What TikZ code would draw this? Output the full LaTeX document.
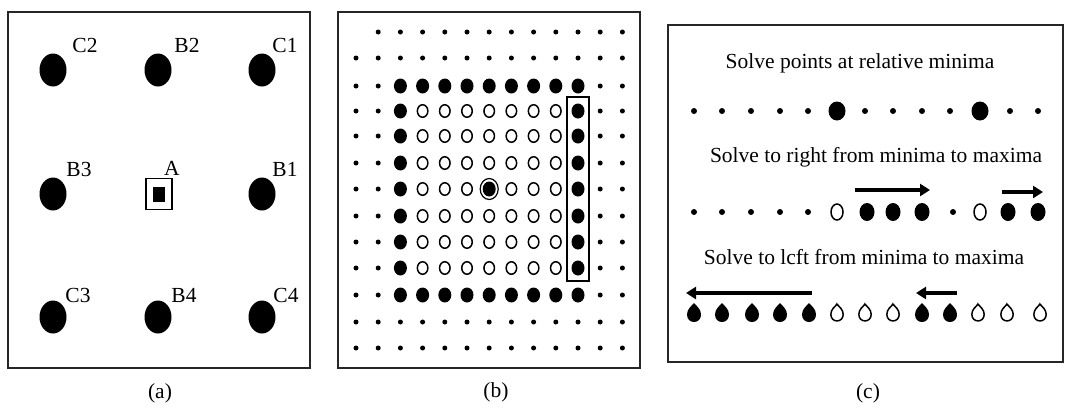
\documentclass[tikz,border=0pt]{standalone}
\usepackage{fontspec}
\setmainfont{Liberation Serif}
\usetikzlibrary{shapes.geometric,arrows.meta}
\tikzset{
  frame/.style={draw=black!85,line width=1.9},
  lbl/.style={inner sep=0,font=\fontsize{21.5}{25}\selectfont},
  adot/.style={ellipse,fill=black,minimum width=27,minimum height=33,inner sep=0},
  bsm/.style={circle,fill=black,minimum size=5,inner sep=0},
  bbig/.style={ellipse,fill=black,minimum width=13,minimum height=15,inner sep=0},
  bopen/.style={ellipse,draw=black,line width=1.5,minimum width=10.5,minimum height=12.5,inner sep=0},
  csm/.style={circle,fill=black,minimum size=6,inner sep=0},
  cbig/.style={ellipse,fill=black,minimum width=17,minimum height=19,inner sep=0},
  cfill/.style={ellipse,fill=black,minimum width=15,minimum height=18,inner sep=0},
  copen/.style={ellipse,draw=black,line width=1.5,minimum width=12,minimum height=16,inner sep=0},
  solvearrow/.style={line width=3.2,-{Triangle[length=10,width=12]}},
  dropshape/.pic={\path[pic actions] (0,-10) .. controls (2.5,-7) and (7,-4) .. (7,1.5) .. controls (7,6) and (4,9) .. (0,9) .. controls (-4,9) and (-7,6) .. (-7,1.5) .. controls (-7,-4) and (-2.5,-7) .. cycle;}
}
\begin{document}
\begin{tikzpicture}[x=1pt,y=-1pt]
\useasboundingbox (0,0) rectangle (1065,416);
\fill[white] (0,0) rectangle (1065,416);
% ---------------- panel (a)
\node[frame,minimum width=302,minimum height=356,inner sep=0] (fa) at (159,190) {};
\node[adot] (c2) at (53,70) {};
\node[adot] (b2) at (158,70) {};
\node[adot] (c1) at (262,70) {};
\node[adot] (b3) at (53,194) {};
\node[adot] (b1) at (262,194) {};
\node[adot] (c3) at (53,317) {};
\node[adot] (b4) at (158,317) {};
\node[adot] (c4) at (262,317) {};
\node[draw=black,line width=1.3,minimum width=26,minimum height=31,inner sep=0] (asq) at (159,194) {};
\node[fill=black,minimum width=12,minimum height=15,inner sep=0] (ain) at (159,194) {};
\node[lbl] (lc2) at (85,45) {C2};
\node[lbl] (lb2) at (187,45) {B2};
\node[lbl] (lc1) at (285,45) {C1};
\node[lbl] (lb3) at (79,169) {B3};
\node[lbl] (la) at (172,168) {A};
\node[lbl] (lb1) at (285,169) {B1};
\node[lbl] (lc3) at (78,295) {C3};
\node[lbl] (lb4) at (184,295) {B4};
\node[lbl] (lc4) at (286,295) {C4};
\node[lbl] (capa) at (160,393) {(a)};
% ---------------- panel (b)
\node[frame,minimum width=302,minimum height=356,inner sep=0] (fb) at (489,190) {};
\foreach \r/\yy in {0/32,1/58,2/86,3/111,4/136,5/163,6/189,7/216,8/242,9/268,10/295,11/322,12/348}{
  \foreach \c in {0,...,12}{
    \pgfmathsetmacro{\xx}{356+22.2*\c}
    \ifnum\r=0 \ifnum\c=0 \else \node[bsm] (b-\r-\c) at (\xx,\yy) {}; \fi
    \else\ifnum\r=1 \node[bsm] (b-\r-\c) at (\xx,\yy) {};
    \else\ifnum\r>10 \node[bsm] (b-\r-\c) at (\xx,\yy) {};
    \else
      \ifnum\c<2 \node[bsm] (b-\r-\c) at (\xx,\yy) {};
      \else\ifnum\c>10 \node[bsm] (b-\r-\c) at (\xx,\yy) {};
      \else
        \ifnum\r=2 \node[bbig] (b-\r-\c) at (\xx,\yy) {};
        \else\ifnum\r=10 \node[bbig] (b-\r-\c) at (\xx,\yy) {};
        \else\ifnum\c=2 \node[bbig] (b-\r-\c) at (\xx,\yy) {};
        \else\ifnum\c=10 \node[bbig] (b-\r-\c) at (\xx,\yy) {};
        \else
          \ifnum\r=6 \ifnum\c=6
            \node[bbig] (b-\r-\c) at (\xx,\yy) {};
            \node[ellipse,draw=black,line width=1.2,minimum width=18,minimum height=21,inner sep=0] (bring) at (\xx,\yy) {};
          \else \node[bopen] (b-\r-\c) at (\xx,\yy) {}; \fi
          \else \node[bopen] (b-\r-\c) at (\xx,\yy) {}; \fi
        \fi\fi\fi\fi
      \fi\fi
    \fi\fi\fi
  }
}
\node[draw=black,line width=1.3,minimum width=22,minimum height=184,inner sep=0] (bcol) at (578,189) {};
\node[lbl] (capb) at (496,392) {(b)};
% ---------------- panel (c)
\node[frame,minimum width=395,minimum height=337,inner sep=0] (fc) at (865.5,193.5) {};
\node[lbl] (t1) at (860,63) {Solve points at relative minima};
\node[lbl] (t2) at (876,157) {Solve to right from minima to maxima};
\node[lbl] (t3) at (864,257) {Solve to lcft from minima to maxima};
% row 1
\foreach \i/\xx in {0/694,1/722,2/751,3/780,4/808,6/865,7/893,8/922,9/950,11/1010,12/1038}{
  \node[csm] (r1-\i) at (\xx,111) {};
}
\node[cbig] (r1-5) at (837,111) {};
\node[cbig] (r1-10) at (980,111) {};
% row 2
\foreach \i/\xx in {0/694,1/722,2/751,3/780,4/808,9/953}{
  \node[csm] (r2-\i) at (\xx,212) {};
}
\node[copen] (r2-5) at (837,212) {};
\node[copen] (r2-10) at (980,212) {};
\foreach \i/\xx in {6/867,7/893,8/922,11/1008,12/1038}{
  \node[cfill] (r2-\i) at (\xx,212) {};
}
\coordinate (ra1) at (855,190);
\coordinate (rb1) at (930,190);
\coordinate (ra2) at (1002,192);
\coordinate (rb2) at (1043,192);
\draw[solvearrow] (ra1) -- (rb1);
\draw[solvearrow] (ra2) -- (rb2);
% row 3
\foreach \xx in {694,722,752,780,809,922,950}{
  \pic[fill=black] at (\xx,313) {dropshape};
}
\foreach \xx in {837,865,893,978,1007,1040}{
  \pic[draw=black,line width=1.5,scale=0.88] at (\xx,313) {dropshape};
}
\coordinate (la1) at (812,293);
\coordinate (lb1) at (686,293);
\coordinate (la2) at (957,293);
\coordinate (lb2) at (916,293);
\draw[solvearrow] (la1) -- (lb1);
\draw[solvearrow] (la2) -- (lb2);
\node[lbl] (capc) at (868,393) {(c)};
\end{tikzpicture}
\end{document}
